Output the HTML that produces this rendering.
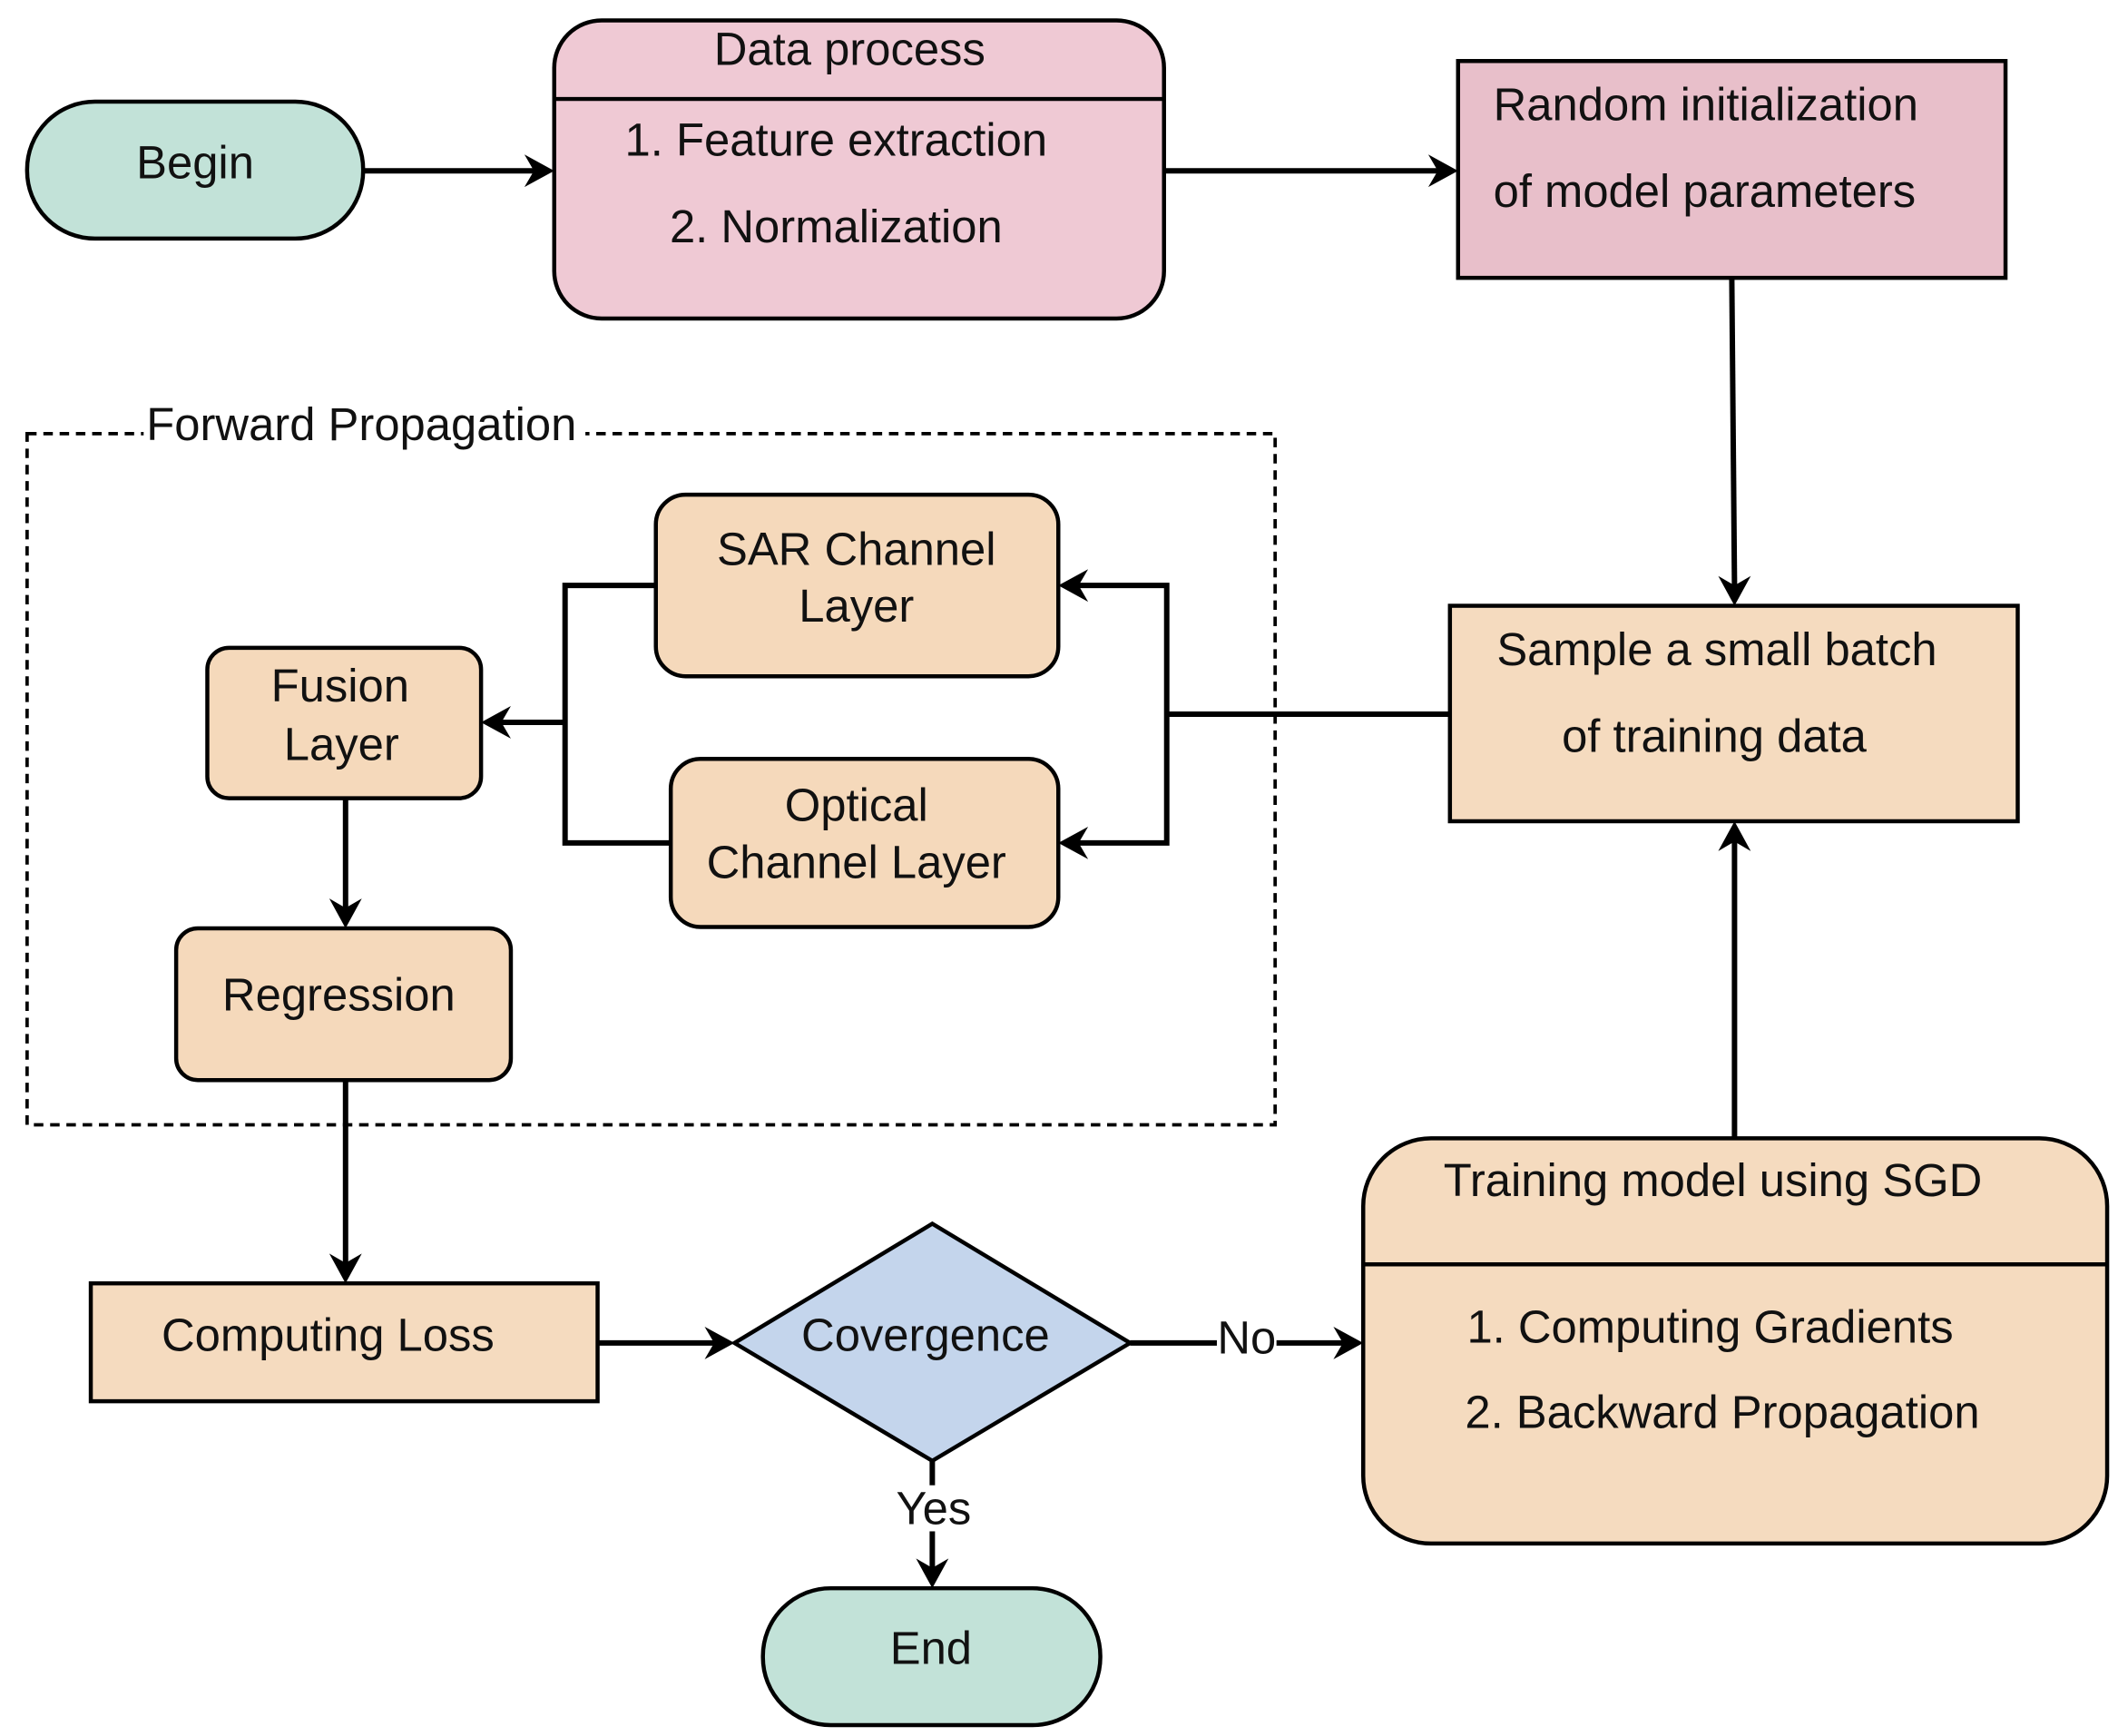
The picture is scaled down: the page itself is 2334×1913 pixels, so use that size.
<!DOCTYPE html>
<html><head><meta charset="utf-8"><style>
html,body{margin:0;padding:0;background:#fff;}
svg{display:block;}
text{font-family:"Liberation Sans",Arial,sans-serif;font-size:34px;fill:#111;dominant-baseline:central;}
</style></head><body>
<svg width="2334" height="1913" viewBox="0 0 1563 1281" xmlns="http://www.w3.org/2000/svg">
<g stroke="#000" stroke-width="3.5" fill="none">
<rect x="20" y="320" width="921" height="510" stroke-dasharray="7,5" stroke-width="2.5"/>
</g>
<rect x="106" y="296" width="326" height="34" fill="#fff"/>
<text x="108" y="313">Forward Propagation</text>

<g stroke="#000" stroke-width="3">
<rect x="20" y="75" width="248" height="101" rx="50" fill="#c2e2d8"/>
<rect x="409" y="15" width="450" height="220" rx="35" fill="#efc9d4"/>
<line x1="409" y1="73" x2="859" y2="73"/>
<rect x="1076" y="45" width="404" height="160" fill="#e8bfca"/>
<rect x="1070" y="447" width="419" height="159" fill="#f5dbbf"/>
<rect x="484" y="365" width="297" height="134" rx="22" fill="#f5d9bb"/>
<rect x="495" y="560" width="286" height="124" rx="22" fill="#f5d9bb"/>
<rect x="153" y="478" width="202" height="111" rx="16" fill="#f5d9bb"/>
<rect x="130" y="685" width="247" height="112" rx="16" fill="#f5d9bb"/>
<rect x="67" y="947" width="374" height="87" fill="#f5dbbf"/>
<polygon points="542,991 688,903 834,991 688,1078" fill="#c4d5ec"/>
<rect x="1006" y="840" width="549" height="299" rx="50" fill="#f5dbbf"/>
<line x1="1006" y1="933" x2="1555" y2="933"/>
<rect x="563" y="1172" width="249" height="101" rx="50" fill="#c2e2d8"/>
</g>

<g stroke="#000" stroke-width="4" fill="none">
<line x1="268" y1="126" x2="395" y2="126"/>
<line x1="859" y1="126" x2="1062" y2="126"/>
<line x1="1278" y1="205" x2="1280" y2="433"/>
<polyline points="1070,527 861,527"/>
<polyline points="795,432 861,432 861,622 795,622"/>
<polyline points="484,432 417,432 417,622 495,622"/>
<line x1="417" y1="533" x2="369" y2="533"/>
<line x1="255" y1="589" x2="255" y2="671"/>
<line x1="255" y1="797" x2="255" y2="933"/>
<line x1="441" y1="991" x2="528" y2="991"/>
<line x1="834" y1="991" x2="992" y2="991"/>
<line x1="1280" y1="840" x2="1280" y2="620"/>
<line x1="688" y1="1078" x2="688" y2="1158"/>
</g>
<g fill="#000">
<polygon points="409,126 387,114 394,126 387,138"/>
<polygon points="1076,126 1054,114 1061,126 1054,138"/>
<polygon points="1280,447 1268,425 1280,432 1292,425"/>
<polygon points="781,432 803,420 796,432 803,444"/>
<polygon points="781,622 803,610 796,622 803,634"/>
<polygon points="355,533 377,521 370,533 377,545"/>
<polygon points="255,685 243,663 255,670 267,663"/>
<polygon points="255,947 243,925 255,932 267,925"/>
<polygon points="542,991 520,979 527,991 520,1003"/>
<polygon points="1006,991 984,979 991,991 984,1003"/>
<polygon points="1280,606 1268,628 1280,621 1292,628"/>
<polygon points="688,1172 676,1150 688,1157 700,1150"/>
</g>
<rect x="898" y="970" width="44" height="34" fill="#fff"/>
<rect x="658" y="1096" width="62" height="34" fill="#fff"/>

<g text-anchor="middle">
<text x="144" y="120">Begin</text>
<text x="627" y="36">Data process</text>
<text x="617" y="103">1. Feature extraction</text>
<text x="617" y="167">2. Normalization</text>
<text x="1267" y="479">Sample a small batch</text>
<text x="1265" y="543">of training data</text>
<text x="632" y="405">SAR Channel</text>
<text x="632" y="447">Layer</text>
<text x="632" y="594">Optical</text>
<text x="632" y="636">Channel Layer</text>
<text x="251" y="506">Fusion</text>
<text x="252" y="549">Layer</text>
<text x="250" y="734">Regression</text>
<text x="242" y="985">Computing Loss</text>
<text x="683" y="985">Covergence</text>
<text x="920" y="987">No</text>
<text x="689" y="1113">Yes</text>
<text x="1264" y="871">Training model using SGD</text>
<text x="1262" y="979">1. Computing Gradients</text>
<text x="1271" y="1042">2. Backward Propagation</text>
<text x="687" y="1216">End</text>
</g>
<text x="1102" y="77">Random initialization</text>
<text x="1102" y="141">of model parameters</text>
</svg>
</body></html>
